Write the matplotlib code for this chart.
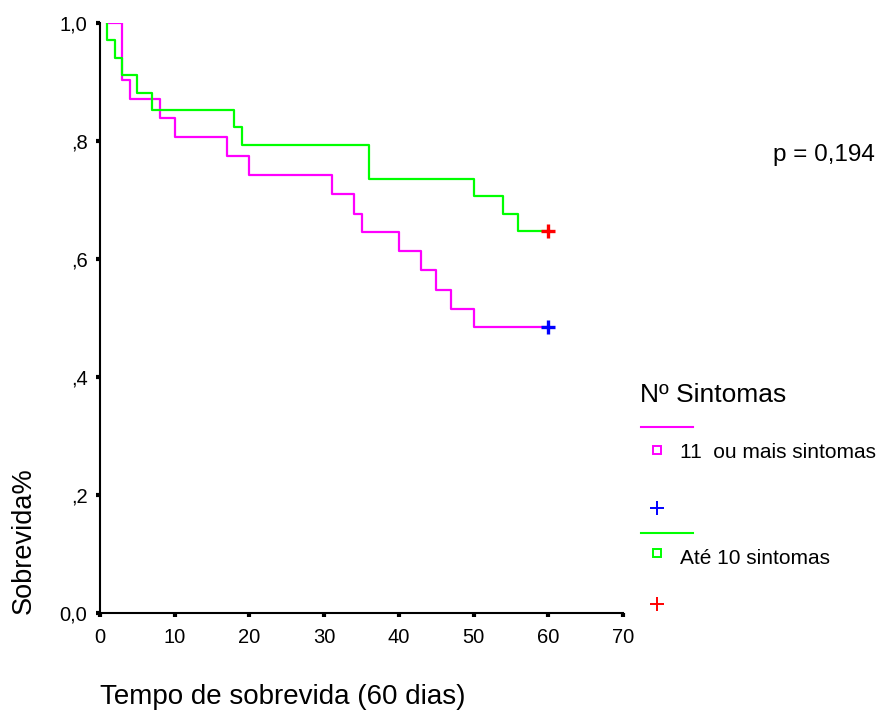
import matplotlib
matplotlib.use("Agg")
import matplotlib.pyplot as plt
from matplotlib.lines import Line2D

plt.rcParams['font.family'] = ['Liberation Sans', 'DejaVu Sans']

# Data (Kaplan-Meier estimates)
grp1_label = "11  ou mais sintomas"
grp1_times = [1, 3, 4, 8, 10, 17, 20, 31, 34, 35, 40, 43, 45, 47, 50, 60]
grp1_surv = [1.0, 0.903, 0.871, 0.839, 0.806, 0.774, 0.742, 0.710, 0.677,
             0.645, 0.613, 0.581, 0.548, 0.516, 0.484, 0.484]
grp1_censor_t = [60]
grp1_censor_s = [0.484]

grp2_label = "Até 10 sintomas"
grp2_times = [1, 1, 2, 3, 5, 7, 18, 19, 36, 50, 54, 56, 60]
grp2_surv = [1.0, 0.971, 0.941, 0.912, 0.882, 0.853, 0.824, 0.794, 0.735,
             0.706, 0.676, 0.647, 0.647]
grp2_censor_t = [60]
grp2_censor_s = [0.647]

x_ticks = [0, 10, 20, 30, 40, 50, 60, 70]
y_ticks = [0.0, 0.2, 0.4, 0.6, 0.8, 1.0]
y_ticklabels = ["0,0", ",2", ",4", ",6", ",8", "1,0"]
p_text = "p = 0,194"

W, H = 887, 718
fig = plt.figure(figsize=(W / 100, H / 100), dpi=100)
ax = fig.add_axes([100 / W, (H - 613) / H, 523 / W, 590 / H])

ax.plot(grp1_times, grp1_surv, drawstyle='steps-post', color='#FF00FF', lw=1.6)
ax.plot(grp2_times, grp2_surv, drawstyle='steps-post', color='#00FF00', lw=1.6)
ax.plot(grp1_censor_t, grp1_censor_s, marker='+', ms=10, mew=2.4, color='#0000FF', ls='none')
ax.plot(grp2_censor_t, grp2_censor_s, marker='+', ms=10, mew=2.4, color='#FF0000', ls='none')

ax.set_xlim(0, 70)
ax.set_ylim(0, 1)
ax.set_xticks(x_ticks)
ax.set_xticklabels([str(v) for v in x_ticks])
ax.set_yticks(y_ticks)
ax.set_yticklabels(y_ticklabels)
for s in ['top', 'right']:
    ax.spines[s].set_visible(False)
for s in ['left', 'bottom']:
    ax.spines[s].set_linewidth(1.5)
ax.tick_params(axis='both', direction='out', length=3, width=3, labelsize=14.5)
ax.tick_params(axis='x', pad=8)
ax.tick_params(axis='y', pad=6)
ax.patch.set_visible(False)

fig.text(100 / W, 1 - 697 / H, "Tempo de sobrevida (60 dias)", fontsize=20,
         ha='left', va='center')
fig.text(24 / W, 1 - 541 / H, "Sobrevida%", fontsize=19.5, rotation=90,
         ha='center', va='center')
fig.text(773 / W, 1 - 155 / H, p_text, fontsize=17.5, ha='left', va='center')

# Legend (drawn manually, SPSS style)
def fx(x):
    return x / W

def fy(y):
    return 1 - y / H

fig.text(fx(640), fy(395), "Nº Sintomas", fontsize=19, ha='left', va='center')
fig.add_artist(Line2D([fx(641), fx(693)], [fy(427), fy(427)], color='#FF00FF', lw=1.5))
fig.add_artist(Line2D([fx(657)], [fy(450)], marker='s', ms=6, mfc='none', mec='#FF00FF', mew=1.4))
fig.text(fx(680), fy(452), grp1_label, fontsize=15, ha='left', va='center')
fig.add_artist(Line2D([fx(657)], [fy(508)], marker='+', ms=10, mew=1.4, color='#0000FF'))
fig.add_artist(Line2D([fx(641), fx(693)], [fy(533), fy(533)], color='#00FF00', lw=1.5))
fig.add_artist(Line2D([fx(657)], [fy(553)], marker='s', ms=6, mfc='none', mec='#00FF00', mew=1.4))
fig.text(fx(680), fy(558), grp2_label, fontsize=15, ha='left', va='center')
fig.add_artist(Line2D([fx(657)], [fy(604)], marker='+', ms=10, mew=1.4, color='#FF0000'))

fig.savefig("out.png", dpi=100)
